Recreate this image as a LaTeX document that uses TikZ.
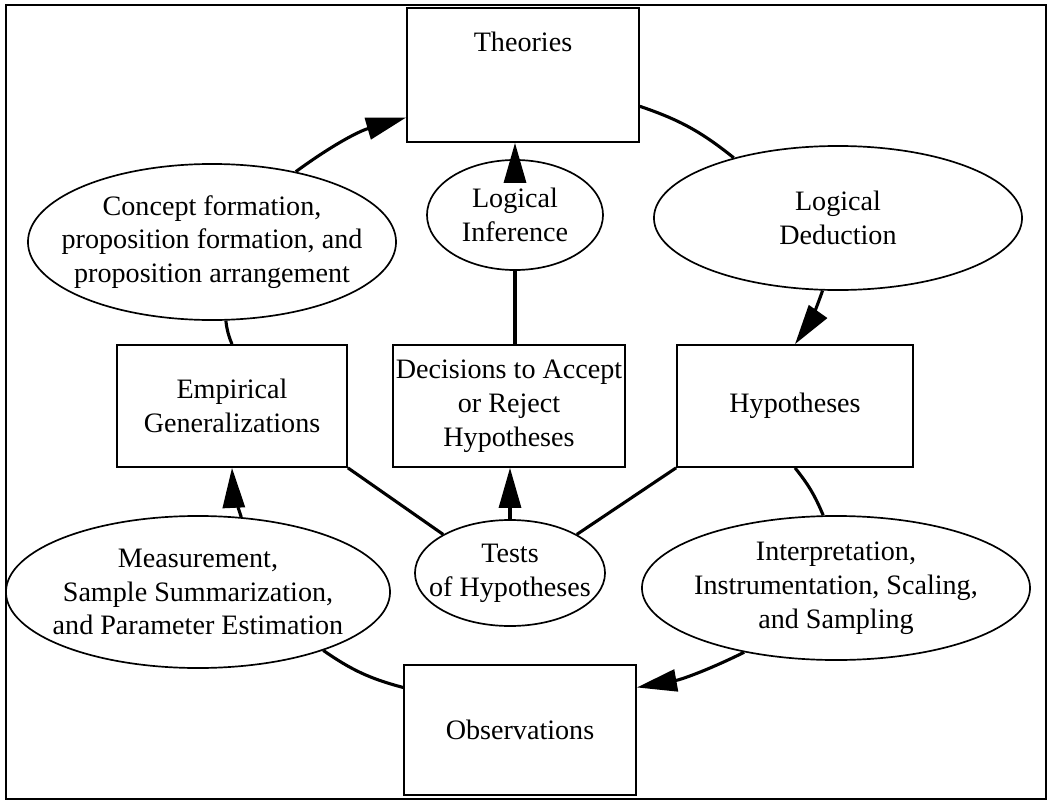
\documentclass[tikz,border=0pt]{standalone}
\usepackage{fontspec}
\setmainfont{Liberation Serif}
\usetikzlibrary{arrows.meta,shapes.geometric}

\tikzset{
  box/.style={draw, line width=1.2pt, rectangle, align=center, inner sep=0pt},
  oval/.style={draw, line width=1.2pt, ellipse, align=center, inner xsep=-1cm, inner ysep=-0.5cm},
  link/.style={line width=2.2pt},
  arr/.style={link, -{Triangle[length=1cm, width=0.55cm]}},
}

\begin{document}
\begin{tikzpicture}[x=0.025cm, y=-0.025cm, font=\fontsize{20}{24}\selectfont]

\useasboundingbox (0,0) rectangle (1048,802);
\draw[line width=1.5pt] (6,5) rectangle (1046,799);

% boxes
\node[box, minimum width=5.8cm, minimum height=3.35cm] (theories) at (523,75) {};
\node (theorieslabel) at (523,42) {Theories};
\node[box, minimum width=5.75cm, minimum height=3.05cm] (empirical) at (232,406) {Empirical\\Generalizations};
\node[box, minimum width=5.8cm, minimum height=3.05cm] (decisions) at (509,406) {Decisions to Accept\\or Reject\\Hypotheses};
\node[box, minimum width=5.9cm, minimum height=3.05cm] (hypotheses) at (795,406) {Hypotheses};
\node[box, minimum width=5.8cm, minimum height=3.25cm] (observations) at (520,730) {Observations};

% ellipses
\node[oval, minimum width=9.2cm, minimum height=3.9cm] (concept) at (212,242) {Concept formation,\\proposition formation, and\\proposition arrangement};
\node[oval, minimum width=4.4cm, minimum height=2.75cm] (inference) at (515,215) {Logical\\Inference};
\node[oval, minimum width=9.2cm, minimum height=3.6cm] (deduction) at (838,218) {Logical\\Deduction};
\node[oval, minimum width=9.6cm, minimum height=3.8cm] (measurement) at (198,592) {Measurement,\\Sample Summarization,\\and Parameter Estimation};
\node[oval, minimum width=4.75cm, minimum height=2.65cm] (tests) at (510,573) {Tests\\of Hypotheses};
\node[oval, minimum width=9.7cm, minimum height=3.6cm] (interpretation) at (836,588) {Interpretation,\\Instrumentation, Scaling,\\and Sampling};

% outer cycle
\draw[arr] (concept.40) to[bend left=10] (theories.200);
\draw[link] (theories.-15) to[bend left=10] (deduction.150);
\draw[arr] (deduction.258) to[bend left=8] (hypotheses.north);
\draw[link] (hypotheses.south) to[bend left=8] (interpretation.100);
\draw[arr] (interpretation.215) to[bend left=8] (observations.20);
\draw[link] (measurement.-25) to[bend right=10] (observations.160);
\draw[arr] (measurement.60) to[bend left=8] (empirical.south);
\draw[link] (concept.-80) to[bend right=8] (empirical.north);

% inner links
\draw[arr] (inference.north) -- (inference.north |- theories.south);
\draw[link] (inference.south) -- (inference.south |- decisions.north);
\draw[arr] (tests.north) -- (tests.north |- decisions.south);
\draw[link] (tests.150) -- (empirical.south east);
\draw[link] (tests.30) -- (hypotheses.south west);

\end{tikzpicture}
\end{document}
